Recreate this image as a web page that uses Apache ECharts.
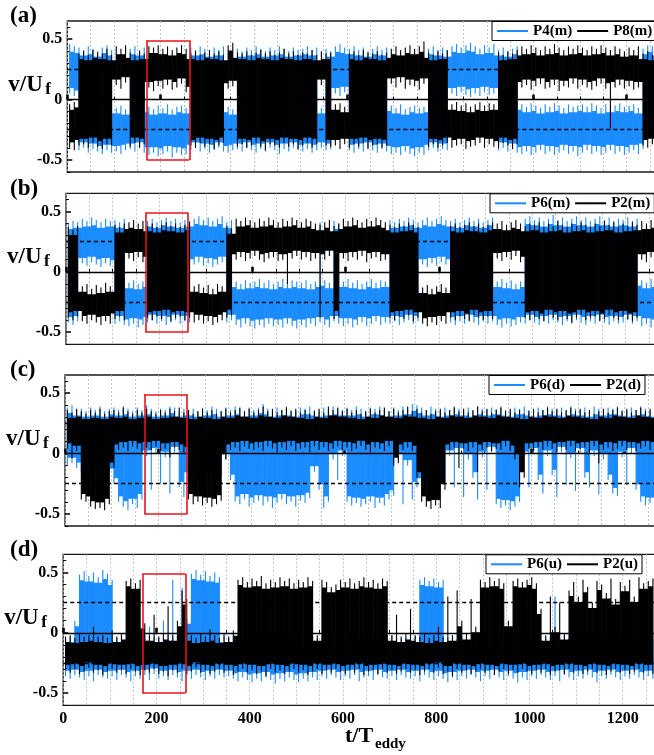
<!DOCTYPE html>
<html>
<head>
<meta charset="utf-8">
<script src="https://cdn.jsdelivr.net/npm/echarts@6/dist/echarts.min.js"></script>
<style>
html,body{margin:0;padding:0;background:#fff;}
#chart{width:654px;height:755px;}
</style>
</head>
<body>
<div id="chart"></div>
<script>
// Width of one envelope bin along t/T_eddy; each bin stores the min (Lo) and max (Hi) of v/U_f
const BIN = 10;
const timeTicks = [0, 200, 400, 600, 800, 1000, 1200];
const valueTicks = [-0.5, 0, 0.5];
const minorValueTicks = [-0.6, -0.4, -0.3, -0.2, -0.1, 0.1, 0.2, 0.3, 0.4, 0.6];
const refLevels = [-0.25, 0, 0.25];
const windowT = [170, 262];
const windowV = [-0.5, 0.49];

// (a) P4(m) / P8(m)
const p4mLo = [0.05,0.03,-0.42,-0.40,-0.44,-0.41,-0.43,-0.45,-0.42,-0.44,
 -0.43,-0.45,-0.42,-0.41,-0.43,-0.40,-0.44,-0.46,-0.44,-0.47,
 -0.45,-0.43,-0.48,-0.44,-0.46,-0.45,-0.42,-0.40,-0.43,-0.41,
 -0.44,-0.42,-0.40,-0.43,-0.44,-0.42,-0.41,-0.43,-0.40,-0.42,
 -0.44,-0.41,-0.43,-0.40,-0.42,-0.45,-0.41,-0.43,-0.40,-0.42,
 -0.43,-0.41,-0.44,-0.42,-0.40,-0.42,-0.41,0.05,0.03,0.06,
 -0.42,-0.44,-0.41,-0.43,-0.40,-0.42,-0.44,-0.41,-0.43,-0.45,
 -0.44,-0.46,-0.43,-0.45,-0.47,-0.44,-0.46,-0.42,-0.40,-0.43,
 -0.41,-0.42,0.05,0.03,0.06,0.04,0.02,0.05,0.03,0.06,
 0.04,0.05,-0.42,-0.40,-0.43,-0.41,-0.44,-0.45,-0.43,-0.46,
 -0.44,-0.42,-0.45,-0.43,-0.46,-0.44,-0.42,-0.45,-0.43,-0.47,
 -0.44,-0.42,-0.45,-0.43,-0.46,-0.44,-0.42,-0.45,-0.43,-0.46,
 -0.44,-0.42,-0.45,-0.41,0.05,0.04,-0.42];
const p4mHi = [0.46,0.44,0.43,0.41,0.44,0.42,0.40,0.43,0.45,0.41,
 -0.07,-0.05,-0.08,0.42,0.44,0.41,0.43,-0.06,-0.08,-0.05,
 -0.07,-0.04,-0.08,-0.06,-0.05,-0.07,0.43,0.41,0.44,0.42,
 0.40,0.43,0.41,0.44,-0.06,-0.08,0.42,0.40,0.43,0.41,
 0.44,0.42,0.40,0.43,0.41,0.44,0.42,0.40,0.43,0.41,
 0.42,0.44,0.41,0.43,-0.07,0.42,0.40,0.44,0.46,0.43,
 0.42,0.44,0.41,0.43,0.40,0.42,0.44,0.41,0.43,-0.05,
 -0.07,-0.04,-0.08,-0.06,-0.05,-0.07,-0.06,0.42,0.44,0.41,
 0.43,0.40,0.44,0.46,0.43,0.45,0.47,0.44,0.42,0.45,
 0.43,0.46,0.41,0.43,0.40,0.42,0.44,-0.04,-0.06,-0.03,
 -0.05,-0.07,-0.04,-0.06,-0.03,-0.05,-0.07,-0.04,-0.06,-0.05,
 -0.04,-0.06,-0.03,-0.05,-0.07,-0.04,-0.06,-0.05,-0.03,-0.06,
 -0.05,-0.04,-0.07,0.42,0.45,0.44,0.41];
const p8mLo = [-0.40,-0.42,-0.38,-0.37,-0.40,-0.36,-0.39,-0.41,-0.37,-0.38,
 0.12,0.09,0.14,-0.39,-0.36,-0.40,-0.37,0.10,0.07,0.11,
 0.09,0.12,0.08,0.10,0.13,0.06,-0.38,-0.40,-0.36,-0.39,
 -0.37,-0.41,-0.38,-0.36,0.09,0.11,-0.39,-0.37,-0.40,-0.38,
 -0.36,-0.39,-0.42,-0.37,-0.38,-0.40,-0.36,-0.39,-0.37,-0.41,
 -0.38,-0.36,-0.40,-0.37,0.12,-0.38,-0.39,-0.38,-0.41,-0.37,
 -0.40,-0.37,-0.39,-0.36,-0.41,-0.38,-0.37,-0.40,-0.38,0.13,
 0.10,0.14,0.09,0.12,0.11,0.08,0.13,-0.39,-0.37,-0.40,
 -0.38,-0.36,-0.40,-0.38,-0.37,-0.41,-0.39,-0.38,-0.36,-0.40,
 -0.37,-0.39,-0.40,-0.36,-0.38,-0.41,-0.37,0.10,0.12,0.08,
 0.11,0.13,0.09,0.10,0.12,0.07,0.11,0.10,0.13,0.09,
 0.12,0.10,0.08,0.11,0.13,0.09,-0.24,0.10,0.12,0.09,
 0.11,0.08,0.10,-0.38,-0.40,-0.37,-0.39];
const p8mHi = [-0.04,-0.02,0.38,0.40,0.37,0.41,0.39,0.38,0.42,0.37,
 0.44,0.42,0.45,0.39,0.37,0.40,0.38,0.44,0.43,0.45,
 0.42,0.44,0.41,0.43,0.45,0.42,0.38,0.40,0.37,0.39,
 0.41,0.38,0.40,0.37,0.45,0.47,0.39,0.38,0.40,0.37,
 0.39,0.41,0.38,0.40,0.37,0.39,0.42,0.38,0.40,0.37,
 0.39,0.38,0.41,0.37,0.40,0.38,0.39,-0.04,-0.03,-0.06,
 0.38,0.40,0.37,0.41,0.39,0.38,0.40,0.37,0.39,0.42,
 0.44,0.41,0.43,0.45,0.42,0.44,0.48,0.39,0.37,0.40,
 0.38,0.41,-0.04,-0.02,-0.05,-0.03,-0.06,-0.04,-0.02,-0.05,
 -0.03,-0.04,0.39,0.37,0.40,0.38,0.41,0.44,0.42,0.45,
 0.43,0.41,0.44,0.42,0.46,0.43,0.41,0.44,0.42,0.45,
 0.43,0.41,0.44,0.42,0.45,0.43,0.41,0.44,0.42,0.40,
 0.43,0.41,0.44,0.38,0.40,0.37,0.39];

// (b) P6(m) / P2(m)
const p6mLo = [-0.42,-0.44,-0.41,0.07,0.05,0.08,0.06,0.04,0.07,0.05,
 -0.43,-0.41,-0.44,-0.45,-0.43,-0.46,-0.44,-0.42,-0.40,-0.43,
 -0.41,-0.44,-0.42,-0.40,-0.43,-0.41,-0.42,0.06,0.08,0.05,
 0.07,0.04,0.06,0.08,-0.42,-0.40,-0.44,-0.46,-0.43,-0.45,
 -0.47,-0.44,-0.46,-0.43,-0.45,-0.44,-0.46,-0.43,-0.45,-0.47,
 -0.44,-0.46,-0.43,-0.45,-0.42,-0.44,-0.46,-0.41,-0.43,-0.45,
 -0.43,-0.46,-0.44,-0.42,-0.45,-0.43,-0.41,-0.44,-0.42,-0.43,
 -0.41,-0.44,-0.42,-0.40,-0.43,-0.41,0.06,0.04,0.07,0.05,
 0.08,0.06,-0.42,-0.44,-0.41,-0.43,-0.40,-0.42,-0.44,-0.41,
 -0.43,-0.41,-0.44,-0.46,-0.43,-0.45,-0.44,-0.42,-0.43,-0.40,
 -0.42,-0.44,-0.41,-0.43,-0.40,-0.42,-0.44,-0.41,-0.43,-0.40,
 -0.42,-0.44,-0.41,-0.43,-0.40,-0.42,-0.44,-0.41,-0.43,-0.42,
 -0.40,-0.43,-0.41,-0.45,-0.43,-0.46,-0.44];
const p6mHi = [0.40,0.42,0.41,0.44,0.42,0.45,0.43,0.41,0.44,0.42,
 0.43,0.41,0.44,-0.09,-0.07,-0.10,-0.08,0.42,0.44,0.41,
 0.43,0.45,0.42,0.44,0.41,0.43,0.42,0.44,0.46,0.43,
 0.45,0.42,0.44,0.46,0.41,0.43,-0.08,-0.10,-0.07,-0.09,
 -0.08,-0.06,-0.09,-0.07,-0.10,-0.08,-0.06,-0.09,-0.07,-0.08,
 -0.09,-0.07,-0.10,-0.08,0.41,-0.07,-0.09,0.42,0.40,-0.08,
 -0.06,-0.09,-0.07,-0.10,-0.08,-0.06,-0.09,-0.07,-0.08,0.43,
 0.41,0.44,0.42,0.45,0.43,0.41,0.43,0.45,0.42,0.44,
 0.46,0.43,0.42,0.44,0.41,0.43,0.45,0.42,0.44,0.41,
 0.43,0.45,-0.08,-0.06,-0.09,-0.07,-0.10,-0.08,0.44,0.46,
 0.43,0.45,0.42,0.44,0.47,0.43,0.45,0.42,0.44,0.46,
 0.43,0.45,0.42,0.44,0.46,0.43,0.45,0.42,0.44,0.43,
 0.45,0.42,0.44,-0.07,-0.09,-0.06,-0.08];
const p2mLo = [-0.38,-0.40,-0.37,-0.41,-0.43,-0.40,-0.42,-0.44,-0.41,-0.43,
 -0.39,-0.37,-0.40,0.11,0.09,0.12,0.08,-0.38,-0.40,-0.37,
 -0.39,-0.36,-0.41,-0.38,-0.37,-0.40,-0.38,-0.42,-0.40,-0.43,
 -0.41,-0.44,-0.42,-0.40,-0.38,-0.36,0.10,0.12,0.09,0.11,
 0.13,0.10,0.08,0.11,0.12,0.09,0.10,-0.10,0.11,0.13,
 0.10,0.12,0.09,0.11,-0.38,0.10,0.13,-0.39,-0.37,0.11,
 0.09,0.12,0.10,0.13,0.08,0.11,0.12,0.09,0.10,-0.38,
 -0.40,-0.37,-0.39,-0.36,-0.41,-0.38,-0.43,-0.45,-0.42,-0.44,
 -0.41,-0.43,-0.38,-0.40,-0.37,-0.39,-0.41,-0.36,-0.38,-0.40,
 -0.37,-0.39,0.11,0.09,0.12,0.10,0.13,0.08,-0.38,-0.40,
 -0.37,-0.39,-0.41,-0.36,-0.38,-0.40,-0.37,-0.39,-0.42,-0.38,
 -0.36,-0.40,-0.38,-0.37,-0.41,-0.39,-0.36,-0.38,-0.40,-0.37,
 -0.39,-0.41,-0.38,0.10,0.08,0.12,0.09];
const p2mHi = [0.37,0.35,0.38,-0.12,-0.10,-0.14,-0.11,-0.13,-0.09,-0.12,
 0.39,0.37,0.40,0.41,0.43,0.40,0.42,0.38,0.40,0.37,
 0.39,0.41,0.38,0.40,0.37,0.39,0.41,-0.12,-0.10,-0.13,
 -0.11,-0.14,-0.10,-0.12,0.38,0.36,0.44,0.42,0.45,0.43,
 0.41,0.44,0.42,0.45,0.43,0.41,0.44,0.42,0.45,0.43,
 0.41,0.44,0.42,0.40,0.39,0.41,0.43,0.38,0.40,0.44,
 0.42,0.45,0.43,0.41,0.44,0.42,0.45,0.43,0.41,0.39,
 0.37,0.40,0.38,0.41,0.39,0.37,-0.13,-0.11,-0.14,-0.12,
 -0.10,-0.13,0.38,0.40,0.37,0.39,0.41,0.38,0.40,0.37,
 0.39,0.41,0.40,0.42,0.39,0.41,0.43,0.40,0.38,0.40,
 0.39,0.41,0.37,0.40,0.38,0.42,0.39,0.37,0.40,0.38,
 0.41,0.39,0.37,0.40,0.38,0.42,0.39,0.41,0.37,0.40,
 0.38,0.41,0.39,0.42,0.40,0.43,0.41];

// (c) P6(d) / P2(d)
const p6dLo = [-0.10,-0.08,-0.12,-0.15,-0.12,-0.18,-0.14,-0.16,-0.13,-0.17,
 -0.25,-0.40,-0.44,-0.47,-0.42,-0.45,-0.38,-0.02,-0.30,0.00,
 -0.25,-0.03,-0.33,0.01,-0.28,-0.36,-0.20,-0.18,-0.22,-0.19,
 -0.21,-0.17,-0.20,-0.18,-0.05,-0.22,-0.40,-0.42,-0.38,-0.44,
 -0.41,-0.39,-0.43,-0.40,-0.45,-0.41,-0.38,-0.42,-0.40,-0.44,
 -0.39,-0.41,-0.37,-0.15,-0.30,-0.45,-0.40,-0.05,-0.22,-0.02,
 -0.40,-0.43,-0.41,-0.44,-0.42,-0.40,-0.45,-0.41,-0.43,-0.38,
 -0.35,-0.05,-0.42,-0.10,-0.38,-0.28,-0.25,-0.22,-0.26,-0.24,
 -0.21,-0.23,-0.02,-0.28,0.00,-0.36,-0.05,-0.20,-0.38,-0.03,
 -0.30,0.01,-0.42,-0.45,-0.43,-0.47,-0.44,-0.40,-0.03,-0.28,
 0.00,-0.22,-0.33,-0.02,-0.18,-0.36,0.01,-0.26,-0.04,-0.31,
 0.00,-0.20,-0.28,-0.02,-0.34,-0.05,-0.22,-0.33,-0.35,-0.03,
 -0.26,0.00,-0.30,-0.40,-0.43,-0.41,-0.44];
const p6dHi = [0.38,0.40,0.36,0.37,0.35,0.38,0.36,0.39,0.35,0.37,
 0.38,0.36,0.39,0.37,0.35,0.38,0.36,0.40,0.37,0.35,
 0.37,0.36,0.39,0.38,0.35,0.37,0.36,0.37,0.35,0.38,
 0.36,0.39,0.37,0.35,0.38,0.36,0.39,0.37,0.35,0.38,
 0.36,0.38,0.41,0.37,0.35,0.38,0.36,0.39,0.36,0.35,
 0.38,0.37,0.39,0.36,0.35,0.38,0.36,0.39,0.37,0.36,
 0.38,0.36,0.39,0.37,0.35,0.38,0.37,0.39,0.36,0.35,
 0.38,0.36,0.39,0.37,0.41,0.40,0.38,0.36,0.39,0.37,
 0.35,0.38,0.36,0.39,0.37,0.36,0.38,0.35,0.39,0.37,
 0.36,0.38,0.37,0.39,0.36,0.35,0.38,0.37,0.39,0.36,
 0.35,0.38,0.36,0.39,0.37,0.36,0.38,0.35,0.39,0.37,
 0.36,0.38,0.35,0.39,0.37,0.36,0.38,0.37,0.39,0.36,
 0.35,0.38,0.36,0.39,0.37,0.35,0.38];
const p2dLo = [0.04,-0.04,0.02,-0.38,-0.40,-0.44,-0.46,-0.45,-0.47,-0.42,
 -0.12,0.03,0.05,0.02,0.06,0.04,0.01,0.05,0.03,0.06,
 0.02,0.04,-0.03,0.05,0.03,0.01,-0.38,-0.42,-0.40,-0.43,
 -0.41,-0.44,-0.42,-0.39,-0.05,0.03,0.05,0.02,0.06,0.04,
 0.03,0.05,0.02,0.06,0.04,0.01,0.05,0.03,0.06,0.02,
 0.04,0.05,0.01,0.06,0.03,0.05,0.02,0.04,0.06,0.03,
 0.05,0.02,0.04,0.06,0.03,0.01,0.05,0.04,0.02,0.06,
 -0.10,-0.08,0.03,0.05,0.02,-0.20,-0.40,-0.44,-0.46,-0.43,
 -0.45,-0.30,0.03,0.05,-0.12,0.04,0.02,0.05,-0.15,0.03,
 0.05,0.02,0.04,0.03,0.06,0.02,-0.05,-0.28,-0.20,0.04,
 0.02,0.05,0.03,0.06,0.04,0.01,0.05,0.03,0.06,0.02,
 0.04,0.05,0.01,0.06,-0.08,0.03,0.05,0.02,0.04,0.06,
 0.03,0.05,0.02,0.04,0.06,0.03,0.05];
const p2dHi = [0.36,0.34,0.37,0.35,0.33,0.36,0.34,0.37,0.33,0.35,
 0.36,0.34,0.38,0.35,0.33,0.36,0.34,0.37,0.35,0.33,
 0.36,0.34,0.37,0.35,0.38,0.34,0.36,0.33,0.35,0.37,
 0.34,0.36,0.33,0.35,0.37,0.34,0.36,0.38,0.35,0.37,
 0.34,0.36,0.39,0.35,0.37,0.34,0.36,0.38,0.35,0.37,
 0.34,0.36,0.33,0.35,0.37,0.34,0.39,0.36,0.38,0.35,
 0.37,0.34,0.36,0.33,0.35,0.37,0.34,0.36,0.38,0.35,
 0.37,0.34,0.36,0.39,0.35,0.37,0.34,0.36,0.33,0.35,
 0.37,0.34,0.36,0.38,0.35,0.37,0.34,0.36,0.39,0.35,
 0.37,0.34,0.36,0.38,0.35,0.37,0.34,0.36,0.33,0.35,
 0.37,0.34,0.36,0.38,0.35,0.37,0.34,0.36,0.38,0.35,
 0.37,0.34,0.36,0.33,0.35,0.37,0.34,0.36,0.38,0.35,
 0.37,0.34,0.36,0.38,0.35,0.37,0.34];

// (d) P6(u) / P2(u)
const p6uLo = [-0.36,-0.38,-0.35,-0.37,-0.39,-0.36,-0.40,-0.35,-0.37,-0.38,
 -0.36,-0.39,-0.35,-0.37,-0.40,-0.36,-0.38,-0.35,-0.39,-0.34,
 -0.38,-0.36,-0.39,-0.35,-0.37,-0.40,-0.36,-0.38,-0.35,-0.37,
 -0.39,-0.36,-0.38,-0.35,-0.37,-0.36,-0.38,-0.40,-0.37,-0.39,
 -0.41,-0.38,-0.40,-0.37,-0.39,-0.42,-0.38,-0.40,-0.37,-0.39,
 -0.41,-0.38,-0.40,-0.37,-0.39,-0.36,-0.38,-0.35,-0.37,-0.39,
 -0.36,-0.38,-0.35,-0.40,-0.37,-0.36,-0.39,-0.35,-0.37,-0.38,
 -0.36,-0.39,-0.35,-0.37,-0.38,-0.36,-0.40,-0.35,-0.37,-0.39,
 -0.36,-0.38,-0.41,-0.37,-0.39,-0.36,-0.38,-0.35,-0.37,-0.40,
 -0.36,-0.38,-0.35,-0.37,-0.39,-0.36,-0.38,-0.41,-0.37,-0.39,
 -0.36,-0.38,-0.35,-0.37,-0.39,-0.36,-0.40,-0.35,-0.37,-0.39,
 -0.36,-0.38,-0.35,-0.37,-0.41,-0.36,-0.38,-0.35,-0.37,-0.39,
 -0.36,-0.38,-0.35,-0.37,-0.39,-0.36,-0.38];
const p6uHi = [-0.05,-0.03,0.10,0.48,0.51,0.47,0.50,0.46,0.52,0.49,
 0.44,-0.04,-0.02,-0.05,-0.03,-0.01,-0.04,-0.02,0.05,-0.03,
 -0.04,0.10,-0.02,0.44,-0.03,0.37,0.12,0.49,0.52,0.48,
 0.51,0.47,0.50,0.46,-0.03,-0.05,-0.02,-0.04,-0.06,-0.03,
 -0.05,-0.02,-0.04,-0.03,-0.05,-0.02,-0.06,-0.04,-0.03,-0.05,
 -0.02,-0.04,-0.06,-0.03,-0.05,-0.04,-0.02,-0.03,-0.05,-0.04,
 -0.06,-0.02,-0.03,-0.05,-0.04,-0.02,-0.06,-0.03,-0.05,-0.04,
 -0.02,-0.03,-0.05,-0.04,-0.06,-0.03,0.44,0.46,0.43,0.45,
 0.42,0.44,-0.04,-0.02,-0.05,-0.03,-0.04,-0.06,-0.02,-0.04,
 -0.03,-0.05,-0.02,-0.04,-0.06,-0.03,-0.05,-0.02,-0.04,-0.03,
 -0.05,-0.02,-0.06,-0.04,-0.03,0.30,-0.05,-0.02,-0.04,-0.06,
 -0.03,-0.05,-0.02,-0.04,-0.03,0.28,-0.05,-0.02,-0.06,-0.04,
 -0.03,-0.05,-0.02,-0.04,-0.06,-0.03,-0.05];
const p2uLo = [-0.31,-0.33,-0.30,-0.34,-0.32,-0.29,-0.33,-0.31,-0.35,-0.32,
 -0.30,-0.33,-0.31,-0.34,-0.30,-0.32,-0.35,-0.31,-0.33,-0.30,
 -0.34,-0.32,-0.36,-0.31,-0.33,-0.30,-0.34,-0.32,-0.29,-0.33,
 -0.31,-0.34,-0.32,-0.30,-0.33,-0.31,-0.35,-0.32,-0.30,-0.33,
 -0.31,-0.34,-0.32,-0.36,-0.30,-0.33,-0.31,-0.34,-0.32,-0.30,
 -0.33,-0.31,-0.35,-0.32,-0.30,-0.34,-0.31,-0.33,-0.30,-0.32,
 -0.34,-0.31,-0.33,-0.30,-0.35,-0.32,-0.31,-0.34,-0.30,-0.33,
 -0.31,-0.34,-0.32,-0.30,-0.33,-0.31,-0.35,-0.32,-0.30,-0.33,
 -0.29,-0.34,-0.32,-0.36,-0.30,-0.33,-0.31,-0.34,-0.32,-0.30,
 -0.33,-0.31,-0.35,-0.32,-0.30,-0.34,-0.31,-0.33,-0.30,-0.32,
 -0.34,-0.31,-0.33,-0.30,-0.35,-0.32,-0.31,-0.34,-0.30,-0.33,
 -0.31,-0.34,-0.32,-0.30,-0.33,-0.31,-0.35,-0.32,-0.30,-0.33,
 -0.31,-0.34,-0.32,-0.30,-0.33,-0.31,-0.34];
const p2uHi = [-0.03,-0.02,-0.04,-0.01,-0.03,-0.02,0.05,-0.03,-0.02,-0.04,
 0.02,-0.03,-0.01,0.43,0.45,0.41,0.44,0.08,-0.02,0.15,
 -0.03,-0.01,0.22,-0.02,0.10,0.35,0.28,-0.02,-0.04,-0.01,
 -0.03,0.03,-0.02,-0.04,-0.01,-0.03,0.02,0.44,0.46,0.42,
 0.45,0.43,0.47,0.41,0.44,0.42,0.46,0.43,0.45,0.41,
 0.44,0.42,0.46,0.43,-0.02,0.44,0.42,0.38,0.40,0.44,
 0.42,0.45,0.41,0.43,0.46,0.42,0.44,0.41,0.45,0.43,
 -0.02,0.15,-0.03,-0.01,0.20,-0.02,-0.03,-0.01,-0.04,-0.02,
 0.05,-0.03,0.30,-0.02,0.35,0.10,-0.01,0.28,0.05,0.44,
 0.42,0.46,0.43,0.45,0.41,0.10,0.43,0.45,0.42,0.44,
 0.46,0.41,0.20,-0.02,0.30,0.05,0.25,-0.01,0.35,0.42,
 0.30,0.44,0.38,0.25,0.43,0.40,0.33,0.45,0.28,0.42,
 0.39,0.44,0.30,0.46,0.41,0.43,0.45];

const seriesNames = [['P4(m)', 'P8(m)'], ['P6(m)', 'P2(m)'], ['P6(d)', 'P2(d)'], ['P6(u)', 'P2(u)']];
const panelLabels = ['(a)', '(b)', '(c)', '(d)'];
const envelopes = [
  [[p4mLo, p4mHi], [p8mLo, p8mHi]],
  [[p6mLo, p6mHi], [p2mLo, p2mHi]],
  [[p6dLo, p6dHi], [p2dLo, p2dHi]],
  [[p6uLo, p6uHi], [p2uLo, p2uHi]]
];

// ---- layout ----
const SERIF = '"Liberation Serif", "Times New Roman", serif';
const BLUE = '#1b8cff';
const BLACK = '#000000';
const T_MAX = 1300;
const PX_PER_T = 0.4662;
const V_MIN = -0.6, V_MAX = 0.65;
const PANEL_H = 151;
const PX_PER_V = PANEL_H / (V_MAX - V_MIN);
// the dense core of the trace stays this far inside the bin extremes; the rest shows as spikes
const CORE_INSET = 0.045;
const panelBox = [
  { left: 67.3, top: 21, legendLeft: 492 },
  { left: 66, top: 193.3, legendLeft: 490 },
  { left: 65, top: 375, legendLeft: 489 },
  { left: 63.2, top: 554.3, legendLeft: 486 }
];

envelopes.forEach((pair, i) => pair.forEach((env, k) => env.forEach(arr => {
  if (arr.length !== 127) throw new Error('envelope ' + i + '/' + k + ' has ' + arr.length + ' bins');
})));

// Each bin is drawn as a thin spike spanning its own min..max; the span shared with the
// next bin (pulled in by CORE_INSET) is filled solid, so the trace reads as a dense band.
function envelopeRenderer(lo, hi, color, needleWidth) {
  return function (params, api) {
    const i = params.dataIndex;
    const tc = api.value(0);
    const top = api.coord([tc, api.value(2)]);
    const bot = api.coord([tc, api.value(1)]);
    const children = [{
      type: 'line',
      shape: { x1: top[0], y1: top[1], x2: bot[0], y2: bot[1] },
      style: { stroke: color, lineWidth: needleWidth }
    }];
    if (i + 1 < lo.length) {
      const h = Math.min(hi[i], hi[i + 1]) - CORE_INSET;
      const l = Math.max(lo[i], lo[i + 1]) + CORE_INSET;
      if (h > l) {
        const p0 = api.coord([tc, h]);
        const p1 = api.coord([tc + BIN, l]);
        children.push({
          type: 'rect',
          shape: { x: p0[0], y: p0[1], width: p1[0] - p0[0], height: p1[1] - p0[1] },
          style: { fill: color }
        });
      }
    }
    return { type: 'group', children };
  };
}

function binData(lo, hi) {
  return lo.map((l, i) => [i * BIN + BIN / 2, l, hi[i]]);
}

const grid = [], xAxis = [], yAxis = [], series = [], legend = [], graphic = [];

panelBox.forEach((p, i) => {
  grid.push({
    left: p.left, top: p.top, width: T_MAX * PX_PER_T, height: PANEL_H,
    show: true, borderColor: '#1a1a1a', borderWidth: 1.3, backgroundColor: 'transparent',
    containLabel: false, outerBoundsMode: 'none'
  });
  const isLast = i === panelBox.length - 1;
  xAxis.push({
    gridIndex: i, type: 'value', min: 0, max: T_MAX, interval: 50,
    axisLine: { show: false },
    axisTick: { inside: true, length: 3, lineStyle: { color: '#000', width: 1 } },
    axisLabel: { show: false },
    splitLine: { show: true, lineStyle: { color: '#b3b3b3', width: 0.8, type: [2, 2] } }
  });
  xAxis.push({
    gridIndex: i, type: 'value', min: 0, max: T_MAX, position: 'bottom',
    axisLine: { show: false },
    axisTick: { inside: true, length: 5, customValues: timeTicks, lineStyle: { color: '#000', width: 2.6 } },
    axisLabel: isLast ? {
      show: true, customValues: timeTicks, margin: 6, formatter: v => String(v),
      fontFamily: SERIF, fontWeight: 'bold', fontSize: 16, color: '#000'
    } : { show: false },
    splitLine: { show: false }
  });
  yAxis.push({
    gridIndex: i, type: 'value', min: V_MIN, max: V_MAX,
    axisLine: { show: false },
    axisTick: { inside: true, length: 5, customValues: valueTicks, lineStyle: { color: '#000', width: 1.5 } },
    axisLabel: { customValues: valueTicks, margin: 5, formatter: v => String(v), fontFamily: SERIF, fontWeight: 'bold', fontSize: 16, color: '#000' },
    splitLine: { show: false }
  });
  yAxis.push({
    gridIndex: i, type: 'value', min: V_MIN, max: V_MAX, position: 'left', offset: 0,
    axisLine: { show: false },
    axisTick: { inside: true, length: 3, customValues: minorValueTicks, lineStyle: { color: '#000', width: 1 } },
    axisLabel: { show: false },
    splitLine: { show: false }
  });

  const [blueEnv, blackEnv] = envelopes[i];
  const [blueName, blackName] = seriesNames[i];
  series.push({
    name: blueName, type: 'custom', xAxisIndex: 2 * i, yAxisIndex: 2 * i,
    data: binData(blueEnv[0], blueEnv[1]), encode: { x: 0, y: [1, 2] },
    renderItem: envelopeRenderer(blueEnv[0], blueEnv[1], BLUE, 1.1),
    itemStyle: { color: BLUE }, silent: true, clip: true, z: 2
  });
  series.push({
    name: blackName, type: 'custom', xAxisIndex: 2 * i, yAxisIndex: 2 * i,
    data: binData(blackEnv[0], blackEnv[1]), encode: { x: 0, y: [1, 2] },
    renderItem: envelopeRenderer(blackEnv[0], blackEnv[1], BLACK, 1.1),
    itemStyle: { color: BLACK }, silent: true, clip: true, z: 3
  });
  // reference levels and the highlighted window, drawn above both traces
  series.push({
    type: 'line', xAxisIndex: 2 * i, yAxisIndex: 2 * i, data: [], silent: true, z: 6,
    markLine: {
      silent: true, symbol: ['none', 'none'], label: { show: false }, animation: false,
      data: [
        ...refLevels.map(v => ({
          yAxis: v,
          lineStyle: v === 0 ? { color: '#000', width: 1.4, type: 'solid' } : { color: '#000', width: 1.3, type: [4, 3] }
        })),
        ...[
          [[windowT[0], windowV[0]], [windowT[1], windowV[0]]],
          [[windowT[1], windowV[0]], [windowT[1], windowV[1]]],
          [[windowT[1], windowV[1]], [windowT[0], windowV[1]]],
          [[windowT[0], windowV[1]], [windowT[0], windowV[0]]]
        ].map(([a, b]) => [
          { coord: a, lineStyle: { color: '#e8141b', width: 1.6, type: 'solid' } },
          { coord: b }
        ])
      ]
    }
  });

  legend.push({
    data: [blueName, blackName], left: p.legendLeft, top: p.top + 0.5, width: 240,
    orient: 'horizontal', icon: 'rect', itemWidth: 31, itemHeight: 2, itemGap: 5,
    padding: [2, 4, 2, 5], borderColor: '#000', borderWidth: 1, borderRadius: 0,
    backgroundColor: '#fff', selectedMode: false,
    textStyle: { fontFamily: SERIF, fontWeight: 'bold', fontSize: 15, color: '#000', lineHeight: 14 }
  });

  // panel letter and axis title
  const zeroY = p.top + V_MAX * PX_PER_V;
  graphic.push({
    type: 'text', x: 10, y: p.top - 16, silent: true,
    style: { text: panelLabels[i], fontFamily: SERIF, fontWeight: 'bold', fontSize: 23, fill: '#000', verticalAlign: 'top' }
  });
  graphic.push({
    type: 'text', x: p.left - 59, y: zeroY - 14.5, silent: true,
    style: { text: 'v/U', fontFamily: SERIF, fontWeight: 'bold', fontSize: 23, fill: '#000', verticalAlign: 'middle' }
  });
  graphic.push({
    type: 'text', x: p.left - 22, y: zeroY - 10, silent: true,
    style: { text: 'f', fontFamily: SERIF, fontWeight: 'bold', fontSize: 17, fill: '#000', verticalAlign: 'middle' }
  });
});

graphic.push({
  type: 'text', x: 345, y: 736, silent: true,
  style: { text: 't/T', fontFamily: SERIF, fontWeight: 'bold', fontSize: 22, fill: '#000', verticalAlign: 'middle' }
});
graphic.push({
  type: 'text', x: 375, y: 744, silent: true,
  style: { text: 'eddy', fontFamily: SERIF, fontWeight: 'bold', fontSize: 15, fill: '#000', verticalAlign: 'middle' }
});

const chart = echarts.init(document.getElementById('chart'), null, { renderer: 'canvas' });
chart.setOption({
  animation: false,
  backgroundColor: '#fff',
  grid, xAxis, yAxis, series, legend, graphic
});
</script>
</body>
</html>
